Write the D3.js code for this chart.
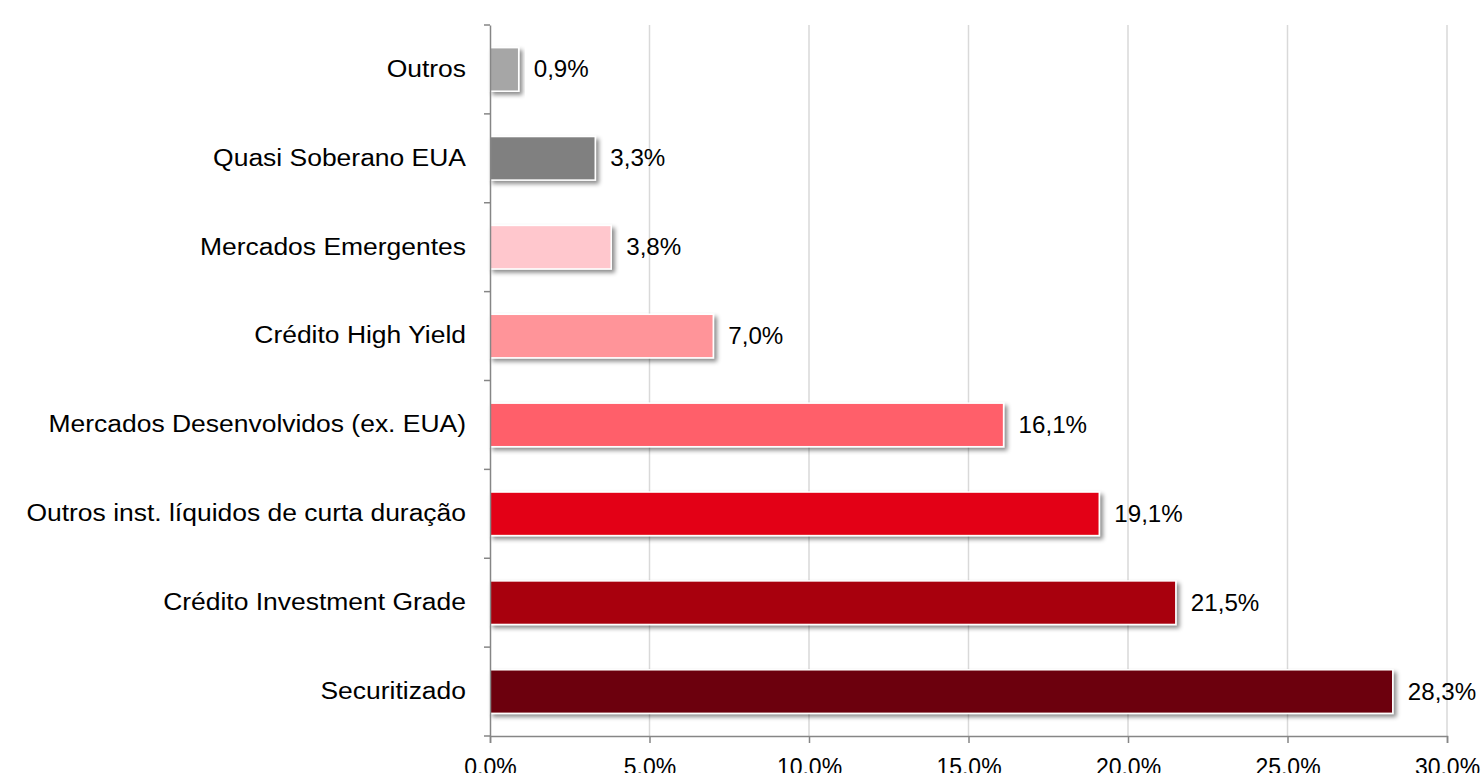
<!DOCTYPE html>
<html>
<head>
<meta charset="utf-8">
<script src="https://cdn.jsdelivr.net/npm/d3@7"></script>
<style>
  body { margin: 0; background: #fff; overflow: hidden; }
  text { font-family: "Liberation Sans", Arial, sans-serif; }
</style>
</head>
<body>
<div id="chart"></div>
<script>
const categories = ["Outros", "Quasi Soberano EUA", "Mercados Emergentes", "Crédito High Yield",
    "Mercados Desenvolvidos (ex. EUA)", "Outros inst. líquidos de curta duração",
    "Crédito Investment Grade", "Securitizado"];
const values = [0.9, 3.3, 3.8, 7.0, 16.1, 19.1, 21.5, 28.3];
const barColors = ["#a6a6a6", "#808080", "#ffc7cd", "#ff9499", "#ff5f6b", "#e30613", "#a8000f", "#6c0008"];
const xTicks = [0, 5, 10, 15, 20, 25, 30];

// widen text horizontally (the reference glyphs are a bit stretched)
function stretch(sel, k) {
    sel.each(function () {
        const w = this.getComputedTextLength();
        d3.select(this).attr("textLength", w * k).attr("lengthAdjust", "spacingAndGlyphs");
    });
}

function main() {
    const canvasWidth = 1482;
    const canvasHeight = 773;
    const left = 490, right = 1447, top = 25, bottom = 736;

    const svg = d3.select("#chart").append("svg")
        .attr("width", canvasWidth)
        .attr("height", canvasHeight);

    const defs = svg.append("defs");
    const filter = defs.append("filter").attr("id", "shadow")
        .attr("x", "-10%").attr("y", "-20%").attr("width", "130%").attr("height", "160%");
    filter.append("feDropShadow")
        .attr("dx", 3).attr("dy", 3).attr("stdDeviation", 2)
        .attr("flood-color", "#000").attr("flood-opacity", 0.45);

    const xScale = d3.scaleLinear().domain([0, 30]).range([left, right]);
    const yScale = d3.scaleBand().domain(categories).range([top, bottom]).paddingInner(0.51).paddingOuter(0.255);

    // gridlines
    svg.append("g")
        .selectAll("line")
        .data(xTicks.slice(1))
        .enter().append("line")
        .attr("x1", d => xScale(d)).attr("x2", d => xScale(d))
        .attr("y1", top).attr("y2", bottom)
        .attr("stroke", "#d9d9d9")
        .attr("stroke-width", 1.5);

    // bars
    svg.append("g")
        .selectAll("rect")
        .data(values)
        .enter().append("rect")
        .attr("x", xScale(0))
        .attr("y", (d, i) => yScale(categories[i]))
        .attr("width", d => xScale(d) - xScale(0))
        .attr("height", yScale.bandwidth())
        .attr("fill", (d, i) => barColors[i])
        .attr("stroke", "#fff")
        .attr("stroke-width", 1.5)
        .attr("filter", "url(#shadow)");

    // value labels
    const fmt = d => d.toFixed(1).replace(".", ",") + "%";
    svg.append("g")
        .selectAll("text")
        .data(values)
        .enter().append("text")
        .attr("x", d => xScale(d) + 15)
        .attr("y", (d, i) => yScale(categories[i]) + yScale.bandwidth() / 2)
        .attr("dy", "0.35em")
        .attr("font-size", "23px")
        .attr("fill", "#000")
        .text(fmt)
        .call(stretch, 1.05);

    // y axis
    const yAxis = svg.append("g")
        .attr("transform", "translate(" + left + ",0)")
        .call(d3.axisLeft(yScale).tickSize(0).tickPadding(24));
    yAxis.select(".domain").attr("stroke", "#868686").attr("stroke-width", 1.5);
    yAxis.selectAll("text").attr("font-size", "23px").attr("fill", "#000")
        .attr("font-family", "Liberation Sans, Arial, sans-serif")
        .call(stretch, 1.15);

    // y-axis boundary ticks
    const step = yScale.step();
    svg.append("g")
        .selectAll("line")
        .data(d3.range(categories.length + 1))
        .enter().append("line")
        .attr("x1", left - 6).attr("x2", left)
        .attr("y1", d => top + d * step).attr("y2", d => top + d * step)
        .attr("stroke", "#868686").attr("stroke-width", 1.5);

    // x axis
    const xAxis = svg.append("g")
        .attr("transform", "translate(0," + bottom + ")")
        .call(d3.axisBottom(xScale).tickValues(xTicks).tickSize(7).tickPadding(16)
            .tickFormat(d => d.toFixed(1) + "%"));
    xAxis.select(".domain").attr("stroke", "#868686").attr("stroke-width", 1.5);
    xAxis.selectAll(".tick line").attr("stroke", "#868686").attr("stroke-width", 1.5);
    xAxis.selectAll("text").attr("font-size", "23px").attr("fill", "#000")
        .attr("font-family", "Liberation Sans, Arial, sans-serif");
}
main();
</script>
</body>
</html>
